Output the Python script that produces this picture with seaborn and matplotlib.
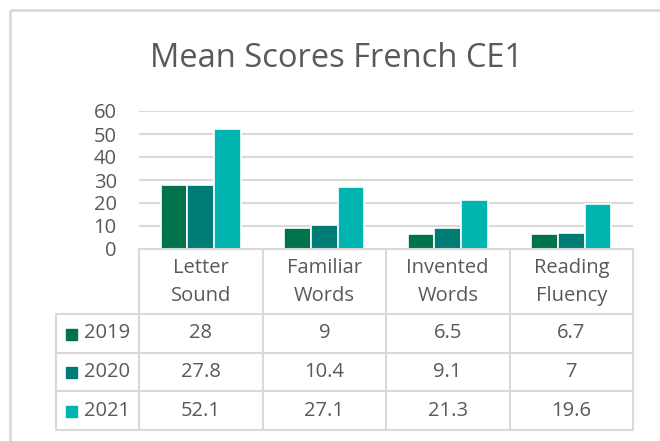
import matplotlib
matplotlib.use("Agg")
import matplotlib.pyplot as plt
import seaborn as sns
import pandas as pd
from matplotlib.patches import Rectangle

# ---- data ----
categories = ["Letter Sound", "Familiar Words", "Invented Words", "Reading Fluency"]
years = ["2019", "2020", "2021"]
scores_2019 = [28, 9, 6.5, 6.7]
scores_2020 = [27.8, 10.4, 9.1, 7]
scores_2021 = [52.1, 27.1, 21.3, 19.6]
colors = ["#00734B", "#007C76", "#00B5AF"]
title = "Mean Scores French CE1"
yticks = [0, 10, 20, 30, 40, 50, 60]

series = [scores_2019, scores_2020, scores_2021]
df = pd.DataFrame(
    [(c, y, v) for y, vals in zip(years, series) for c, v in zip(categories, vals)],
    columns=["category", "year", "score"],
)

sns.set_theme(style="white")
plt.rcParams["font.family"] = ["Open Sans", "DejaVu Sans"]
TXT = "#595959"
LINE = "#D9D9D9"

W, H = 660, 441
fig = plt.figure(figsize=(W / 100, H / 100), dpi=100)
fig.patch.set_facecolor("white")

# pixel geometry
PL, PR, PT, PB = 139, 633, 111, 249
ax = fig.add_axes([PL / W, 1 - PB / H, (PR - PL) / W, (PB - PT) / H])
sns.barplot(data=df, x="category", y="score", hue="year", palette=colors,
            width=0.65, ax=ax, edgecolor="white", linewidth=1.2, legend=False,
            saturation=1, zorder=3)
ax.set_xlim(-0.5, len(categories) - 0.5)
ax.set_ylim(0, 60)
ax.set_yticks(yticks)
ax.set_yticklabels([str(t) for t in yticks], fontsize=14.5, color=TXT)
ax.tick_params(axis="y", length=0, pad=16)
ax.set_xticks([])
ax.set_xlabel("")
ax.set_ylabel("")
for s in ax.spines.values():
    s.set_visible(False)
ax.grid(axis="y", color=LINE, linewidth=1.5, zorder=0)
ax.set_axisbelow(True)

# overlay axes in pixel coords for table, border and title
ov = fig.add_axes([0, 0, 1, 1], zorder=5)
ov.set_xlim(0, W)
ov.set_ylim(H, 0)
ov.axis("off")
ov.patch.set_alpha(0)

# chart border
ov.plot([10, 10], [H + 5, 10], color=LINE, lw=2, solid_capstyle="butt")
ov.plot([10, W + 5], [10, 10], color=LINE, lw=2, solid_capstyle="butt")

# title
ov.text(337, 67, title, ha="center", va="baseline", fontsize=23.5, color=TXT)

# table
TL = 56
rows_y = [249, 314, 353, 391, 430]
ncat = len(categories)
col_x = [PL + i * (PR - PL) / ncat for i in range(ncat + 1)]
lw = 1.5
ov.plot([PL, PR], [rows_y[0], rows_y[0]], color=LINE, lw=lw)
for yy in rows_y[1:]:
    ov.plot([TL, PR], [yy, yy], color=LINE, lw=lw)
for xx in col_x:
    ov.plot([xx, xx], [rows_y[0], rows_y[-1]], color=LINE, lw=lw)
ov.plot([TL, TL], [rows_y[1], rows_y[-1]], color=LINE, lw=lw)

for i, cat in enumerate(categories):
    cx = (col_x[i] + col_x[i + 1]) / 2
    words = cat.split(" ")
    ov.text(cx, 268, words[0], ha="center", va="center", fontsize=14.5, color=TXT)
    ov.text(cx, 296, " ".join(words[1:]), ha="center", va="center", fontsize=14.5, color=TXT)

for r, (yr, vals, col) in enumerate(zip(years, series, colors)):
    cy = (rows_y[r + 1] + rows_y[r + 2]) / 2
    ov.add_patch(Rectangle((66, cy - 5), 11, 11, color=col))
    ov.text(84, cy, yr, ha="left", va="center", fontsize=14.5, color=TXT)
    for i, v in enumerate(vals):
        cx = (col_x[i] + col_x[i + 1]) / 2
        ov.text(cx, cy, f"{v:g}", ha="center", va="center", fontsize=14.5, color=TXT)

fig.savefig("out.png", dpi=100, facecolor="white")
